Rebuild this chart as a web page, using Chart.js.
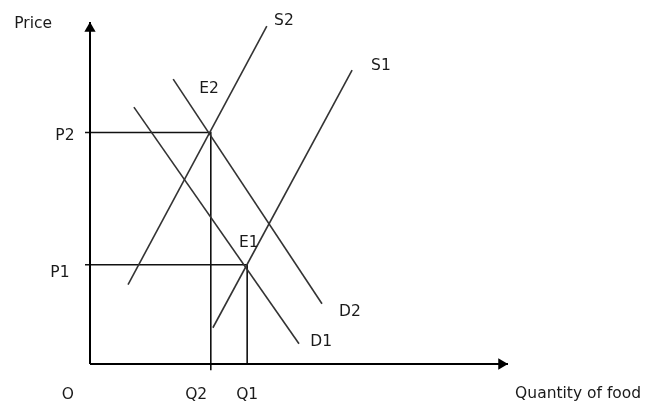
<!DOCTYPE html>
<html>
<head>
<meta charset="utf-8">
<script src="https://cdn.jsdelivr.net/npm/chart.js@4"></script>
<style>
  body { margin: 0; background: #fff; }
</style>
</head>
<body>
<canvas id="food-chart" width="645" height="402"></canvas>
<script>
// curves, quantity (x) and price (y) of each end point
const curveNames = ["S1", "S2", "D1", "D2"];
const curveQ = [[29.4, 62.7], [9.1, 42.3], [10.5, 50.0], [19.9, 55.5]];
const curveP = [[10.6, 85.9], [23.2, 98.8], [75.1, 5.9], [83.3, 17.6]];

// equilibrium points
const eqNames = ["E1", "E2"];
const eqQ = [37.6, 28.9];
const eqP = [29.0, 67.7];

// text around the diagram: [text, q, p]
const priceLabels = [["P2", -6.0, 67.4], ["P1", -7.2, 27.3]];
const qtyLabels = [["O", -5.3, -8.5], ["Q2", 25.4, -8.5], ["Q1", 37.6, -8.5]];
const curveLabels = [["S2", 46.4, 100.9], ["S1", 69.6, 87.7], ["E2", 28.5, 80.9],
                     ["E1", 38.0, 36.1], ["D2", 62.2, 15.8], ["D1", 55.3, 7.0]];

var datasets = [];

// the two axes with arrow heads
datasets.push({
    data: [{x: 0, y: 0}, {x: 0, y: 100}],
    borderColor: "#000", borderWidth: 2, pointRadius: 0
});
datasets.push({
    data: [{x: 0, y: 0}, {x: 100, y: 0}],
    borderColor: "#000", borderWidth: 2, pointRadius: 0
});
datasets.push({
    data: [{x: 0, y: 98.1}],
    showLine: false, pointStyle: "triangle", pointRadius: 6.5, rotation: 0,
    backgroundColor: "#000", borderColor: "#000", borderWidth: 0
});
datasets.push({
    data: [{x: 98.45, y: 0}],
    showLine: false, pointStyle: "triangle", pointRadius: 6.5, rotation: 90,
    backgroundColor: "#000", borderColor: "#000", borderWidth: 0
});

// supply and demand lines
for (var i = 0; i < curveNames.length; i++) {
    datasets.push({
        label: curveNames[i],
        data: [{x: curveQ[i][0], y: curveP[i][0]}, {x: curveQ[i][1], y: curveP[i][1]}],
        borderColor: "#333", borderWidth: 1.6, pointRadius: 0
    });
}

// dropping lines from the equilibriums to both axes
for (var i = 0; i < eqNames.length; i++) {
    datasets.push({
        label: eqNames[i],
        data: [{x: -1.2, y: eqP[i]}, {x: eqQ[i], y: eqP[i]}, {x: eqQ[i], y: i == 1 ? -1.8 : 0}],
        borderColor: "#111", borderWidth: 1.6, pointRadius: 0
    });
}

const textPlugin = {
    id: "diagramText",
    afterDatasetsDraw(chart) {
        const ctx = chart.ctx;
        const xs = chart.scales.x, ys = chart.scales.y;
        const dy = 2; // nudge, DejaVu sits a bit high with "middle"
        ctx.save();
        ctx.font = "15.5px 'DejaVu Sans'";
        ctx.fillStyle = "#1a1a1a";
        ctx.textAlign = "center";
        ctx.textBaseline = "middle";
        priceLabels.concat(qtyLabels, curveLabels).forEach(function (l) {
            ctx.fillText(l[0], xs.getPixelForValue(l[1]), ys.getPixelForValue(l[2]) + dy);
        });
        // axis names
        ctx.fillText("Price", xs.getPixelForValue(-13.6), ys.getPixelForValue(99.9) + dy);
        ctx.textAlign = "left";
        ctx.fillText("Quantity of food", xs.getPixelForValue(101.7), ys.getPixelForValue(-8.2) + dy);
        ctx.restore();
    }
};

var chrt = document.getElementById("food-chart").getContext("2d");
new Chart(chrt, {
    type: "scatter",
    data: { datasets: datasets },
    options: {
        responsive: false,
        animation: false,
        layout: { padding: { left: 90, right: 137, top: 22, bottom: 38 } },
        datasets: { scatter: { showLine: true, clip: false } },
        scales: {
            x: { type: "linear", min: 0, max: 100, display: false },
            y: { type: "linear", min: 0, max: 100, display: false }
        },
        plugins: {
            legend: { display: false },
            tooltip: { enabled: false }
        }
    },
    plugins: [textPlugin]
});
</script>
</body>
</html>
